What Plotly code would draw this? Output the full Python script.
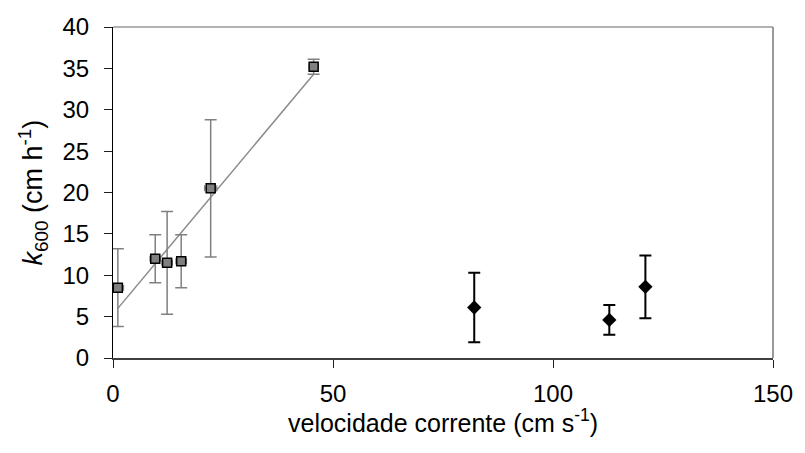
import numpy as np
import plotly.graph_objects as go

# Low-velocity sites (grey squares) with regression
vel_a = [1.1, 9.6, 12.3, 15.5, 22.2, 45.6]
k600_a = [8.5, 12.0, 11.5, 11.7, 20.5, 35.2]
err_a = [4.7, 2.9, 6.2, 3.2, 8.3, 0.9]
xerr_a = [1.3, 1.2, 1.2, 1.2, 1.4, 1.0]

# High-velocity sites (black diamonds)
vel_b = [82.1, 112.8, 121.0]
k600_b = [6.1, 4.6, 8.6]
err_b = [4.2, 1.8, 3.8]

x_ticks = [0, 50, 100, 150]
y_ticks = [0, 5, 10, 15, 20, 25, 30, 35, 40]

FONT = "Liberation Sans, Arial, sans-serif"

slope, intercept = np.polyfit(vel_a, k600_a, 1)
fit_x = np.array([min(vel_a), max(vel_a)])
fit_y = slope * fit_x + intercept

fig = go.Figure()

fig.add_trace(go.Scatter(
    x=fit_x, y=fit_y, mode="lines",
    line=dict(color="#8c8c8c", width=1.5),
    hoverinfo="skip", showlegend=False,
))

fig.add_trace(go.Scatter(
    x=vel_a, y=k600_a, mode="markers",
    marker=dict(symbol="square", size=9, color="#808080",
                line=dict(color="black", width=1.5)),
    error_y=dict(type="data", array=err_a, color="#808080",
                 thickness=1.5, width=6),
    error_x=dict(type="data", array=xerr_a, color="#808080",
                 thickness=1.2, width=3),
    showlegend=False,
))

fig.add_trace(go.Scatter(
    x=vel_b, y=k600_b, mode="markers",
    marker=dict(symbol="diamond", size=11, color="black"),
    error_y=dict(type="data", array=err_b, color="black",
                 thickness=2, width=6),
    showlegend=False,
))

# grey frame on top and right
fig.add_shape(type="line", xref="paper", yref="paper", x0=0, x1=1, y0=1, y1=1,
              line=dict(color="#999999", width=1.5))
fig.add_shape(type="line", xref="paper", yref="paper", x0=1, x1=1, y0=0, y1=1,
              line=dict(color="#999999", width=2))

fig.update_xaxes(
    range=[0, 150], tickvals=x_ticks, ticktext=[str(v) for v in x_ticks],
    showgrid=False, zeroline=False,
    showline=True, linecolor="#404040", linewidth=2,
    ticks="outside", ticklen=8, tickcolor="#202020", tickwidth=1,
    ticklabelstandoff=5,
    tickfont=dict(family=FONT, size=24, color="black"),
)
fig.update_yaxes(
    range=[0, 40], tickvals=y_ticks, ticktext=[str(v) for v in y_ticks],
    showgrid=False, zeroline=False,
    showline=True, linecolor="black", linewidth=1,
    ticks="outside", ticklen=8, tickcolor="#202020", tickwidth=1,
    ticklabelstandoff=10,
    tickfont=dict(family=FONT, size=24, color="black"),
)

# axis titles
fig.add_annotation(
    text="velocidade corrente (cm s<sup>-1</sup>)",
    xref="paper", yref="paper", x=0.5, y=-0.245,
    xanchor="center", yanchor="bottom", showarrow=False,
    font=dict(family=FONT, size=25, color="black"),
)
fig.add_annotation(
    text="<i>k</i><sub>600</sub> (cm h<sup>-1</sup>)",
    xref="paper", yref="paper", x=-0.1226, y=0.5,
    xanchor="center", yanchor="middle", showarrow=False, textangle=-90,
    font=dict(family=FONT, size=27, color="black"),
)

fig.update_layout(
    width=805, height=453,
    margin=dict(l=113, r=23, t=27, b=95),
    paper_bgcolor="white", plot_bgcolor="white",
)

fig.write_html("out.html")
